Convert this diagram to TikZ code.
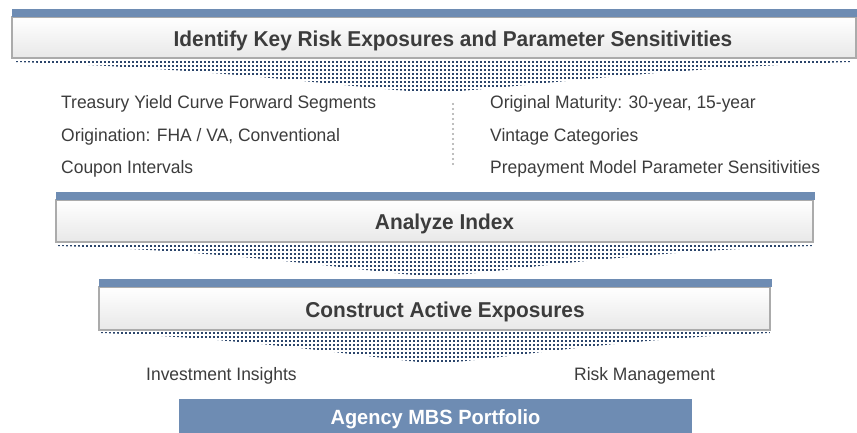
\documentclass[tikz,border=0pt]{standalone}
\usepackage{fontspec}
\setmainfont[FakeStretch=0.97]{Liberation Sans}
\definecolor{barblue}{HTML}{6E8CB3}
\definecolor{dotblue}{HTML}{2B456B}
\definecolor{txt}{HTML}{3C3C3C}
\definecolor{boxline}{HTML}{ABABAB}
\definecolor{sepgray}{HTML}{A8A8A8}
\tikzset{
  stagebox/.style={draw=boxline, line width=1.6bp, top color=white, bottom color=black!9, inner sep=0pt},
  bar/.style={fill=barblue},
  dotsq/.style={fill=dotblue},
  titletext/.style={text=txt, font=\bfseries\fontsize{21.5bp}{24bp}\selectfont, inner sep=0pt},
  bodytext/.style={text=txt, font=\fontsize{18bp}{21bp}\selectfont, inner sep=0pt},
  sepline/.style={draw=sepgray, line width=2.2bp, dash pattern=on 0bp off 5bp, line cap=round},
}
\begin{document}
\begin{tikzpicture}[x=1bp,y=-1bp]
\useasboundingbox (0,0) rectangle (857,433);
% stage boxes
\node[stagebox, minimum width=844bp, minimum height=41bp] (b1) at (434,37.5) {};
\node[stagebox, minimum width=757bp, minimum height=42bp] (b2) at (434.5,221) {};
\node[stagebox, minimum width=671bp, minimum height=43bp] (b3) at (434.5,308.5) {};
\node[fill=barblue, minimum width=513bp, minimum height=34bp, inner sep=0pt] (b4) at (435.5,416) {};
% blue bars
\fill[bar] (12,9) rectangle (857,17);
\fill[bar] (56,192) rectangle (815,200);
\fill[bar] (99,279) rectangle (772,287);
% dotted funnels
\begin{scope}
\clip (16,60) -- (16,62) .. controls (250,70) and (380,92) .. (433,92) .. controls (490,92) and (620,70) .. (850,62) -- (850,60) -- cycle;
\foreach \xx in {16,20,...,850} \foreach \yy in {61,65,...,93} \fill[dotsq] (\xx,\yy) rectangle +(2,2);
\end{scope}
\begin{scope}
\clip (58,244) -- (58,246) .. controls (260,252) and (390,276) .. (435,276) .. controls (480,276) and (610,252) .. (812,246) -- (812,244) -- cycle;
\foreach \xx in {58,62,...,812} \foreach \yy in {245,249,...,277} \fill[dotsq] (\xx,\yy) rectangle +(2,2);
\end{scope}
\begin{scope}
\clip (101,331) -- (101,333) .. controls (280,340) and (400,363) .. (437,363) .. controls (475,363) and (600,340) .. (770,333) -- (770,331) -- cycle;
\foreach \xx in {101,105,...,770} \foreach \yy in {332,336,...,364} \fill[dotsq] (\xx,\yy) rectangle +(2,2);
\end{scope}
% titles
\node[titletext, anchor=base] (t1) at (453,47) {Identify Key Risk Exposures and Parameter Sensitivities};
\node[titletext, anchor=base] (t2) at (444.5,230) {Analyze Index};
\node[titletext, anchor=base] (t3) at (445,318) {Construct Active Exposures};
\node[titletext, text=white, font=\bfseries\fontsize{20.6bp}{23bp}\selectfont, anchor=base] (t4) at (435.5,424) {Agency MBS Portfolio};
% body text
\node[bodytext, anchor=base west] (l1) at (61,109) {Treasury Yield Curve Forward Segments};
\node[bodytext, anchor=base west] (l2) at (61,142) {Origination: FHA / VA, Conventional};
\node[bodytext, anchor=base west] (l3) at (61,174) {Coupon Intervals};
\node[bodytext, anchor=base west] (r1) at (490,109) {Original Maturity: 30-year, 15-year};
\node[bodytext, anchor=base west] (r2) at (490,142) {Vintage Categories};
\node[bodytext, anchor=base west] (r3) at (490,174) {Prepayment Model Parameter Sensitivities};
\node[bodytext, anchor=base west] (ii) at (146,381) {Investment Insights};
\node[bodytext, anchor=base west] (rm) at (574,381) {Risk Management};
% separator
\coordinate (s1) at (453,104);
\coordinate (s2) at (453,166);
\draw[sepline] (s1) -- (s2);
\end{tikzpicture}
\end{document}
